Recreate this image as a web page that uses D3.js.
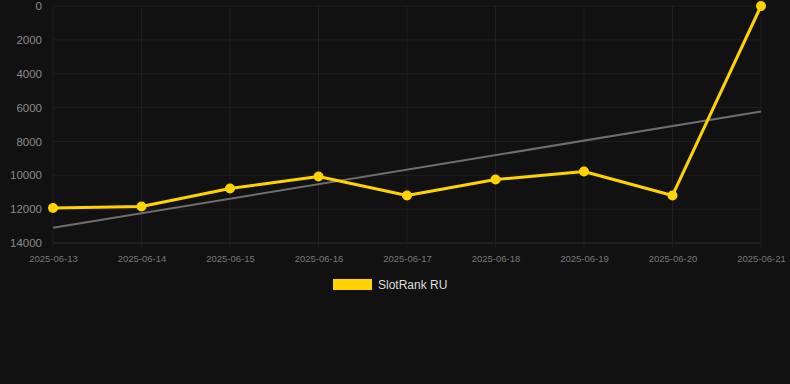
<!DOCTYPE html>
<html>
<head>
<meta charset="utf-8">
<script src="https://cdn.jsdelivr.net/npm/d3@7"></script>
<style>
  html, body { margin: 0; padding: 0; background: #111111; }
  svg { display: block; font-family: Arial, "Liberation Sans", sans-serif; }
</style>
</head>
<body>
<svg width="790" height="384"></svg>
<script>
// Dates on the x axis, one per point.
const dates = ["2025-06-13", "2025-06-14", "2025-06-15", "2025-06-16", "2025-06-17",
  "2025-06-18", "2025-06-19", "2025-06-20", "2025-06-21"];
// Rank values (axis is reversed, 0 on top).
const rankValues = [11930, 11840, 10780, 10070, 11190, 10250, 9780, 11190, 0];
const yTicks = [0, 2000, 4000, 6000, 8000, 10000, 12000, 14000];
const seriesName = "SlotRank RU";

function initGraph() {
  const svg = d3.select("svg");

  const margin = { top: 6, right: 29, bottom: 141, left: 53 };
  const width = +svg.attr("width") - margin.left - margin.right;
  const height = +svg.attr("height") - margin.top - margin.bottom;

  const content = svg.append("g")
    .attr("transform", "translate(" + margin.left + "," + margin.top + ")");

  const xScale = d3.scalePoint().domain(dates).range([0, width]);
  const yScale = d3.scaleLinear().domain([0, 14000]).range([0, height]);

  // Grid lines.
  content.append("g")
    .selectAll("line")
    .data(yTicks)
    .enter()
    .append("line")
    .attr("x1", 0)
    .attr("x2", width)
    .attr("y1", d => yScale(d))
    .attr("y2", d => yScale(d))
    .attr("stroke", d => d === 14000 ? "#2e2e2e" : "#1f1f1f")
    .attr("stroke-width", 1);

  content.append("g")
    .selectAll("line")
    .data(dates)
    .enter()
    .append("line")
    .attr("x1", d => xScale(d))
    .attr("x2", d => xScale(d))
    .attr("y1", 0)
    .attr("y2", height + 5)
    .attr("stroke", "#1f1f1f")
    .attr("stroke-width", 1);

  // Y axis labels.
  const yAxis = d3.axisLeft(yScale).tickValues(yTicks).tickSize(0).tickPadding(11)
    .tickFormat(d3.format("d"));
  content.append("g")
    .attr("class", "y axis")
    .call(yAxis)
    .call(g => g.select(".domain").remove())
    .call(g => g.selectAll("text").attr("fill", "#8a8a8a").style("font-size", "11.5px"));

  // X axis labels.
  const xAxis = d3.axisBottom(xScale).tickSize(0).tickPadding(12);
  content.append("g")
    .attr("class", "x axis")
    .attr("transform", "translate(0," + height + ")")
    .call(xAxis)
    .call(g => g.select(".domain").remove())
    .call(g => g.selectAll("text").attr("fill", "#777777").style("font-size", "9.5px"));

  return { svg, content, margin, width, height, xScale, yScale };
}

function renderTrend(graph) {
  const { xScale, yScale, content } = graph;
  // Least squares fit over the point index.
  const n = rankValues.length;
  const xs = d3.range(n);
  const mx = d3.mean(xs);
  const my = d3.mean(rankValues);
  const slope = d3.sum(xs, (x, i) => (x - mx) * (rankValues[i] - my)) /
    d3.sum(xs, x => (x - mx) * (x - mx));
  const intercept = my - slope * mx;

  content.append("line")
    .attr("x1", xScale(dates[0]))
    .attr("y1", yScale(intercept))
    .attr("x2", xScale(dates[n - 1]))
    .attr("y2", yScale(intercept + slope * (n - 1)))
    .attr("stroke", "#6e6e6e")
    .attr("stroke-width", 2);
}

function renderSeries(graph) {
  const { xScale, yScale, content } = graph;
  const data = dates.map((d, i) => ({ date: d, value: rankValues[i] }));

  const line = d3.line()
    .x(d => xScale(d.date))
    .y(d => yScale(d.value));

  content.append("path")
    .datum(data)
    .attr("fill", "none")
    .attr("stroke", "#ffd200")
    .attr("stroke-width", 3)
    .attr("stroke-linejoin", "round")
    .attr("d", line);

  content.selectAll("circle")
    .data(data)
    .enter()
    .append("circle")
    .attr("cx", d => xScale(d.date))
    .attr("cy", d => yScale(d.value))
    .attr("r", 5)
    .attr("fill", "#ffd200");
}

function renderLegend(graph) {
  const legend = graph.svg.append("g")
    .attr("transform", "translate(333,279)");

  legend.append("rect")
    .attr("width", 39)
    .attr("height", 11)
    .attr("fill", "#ffd200");

  legend.append("text")
    .attr("x", 45)
    .attr("y", 6)
    .attr("dy", "0.35em")
    .attr("fill", "#dddddd")
    .style("font-size", "12px")
    .text(seriesName);
}

window.addEventListener("load", function() {
  const graph = initGraph();
  renderTrend(graph);
  renderSeries(graph);
  renderLegend(graph);
});
</script>
</body>
</html>
